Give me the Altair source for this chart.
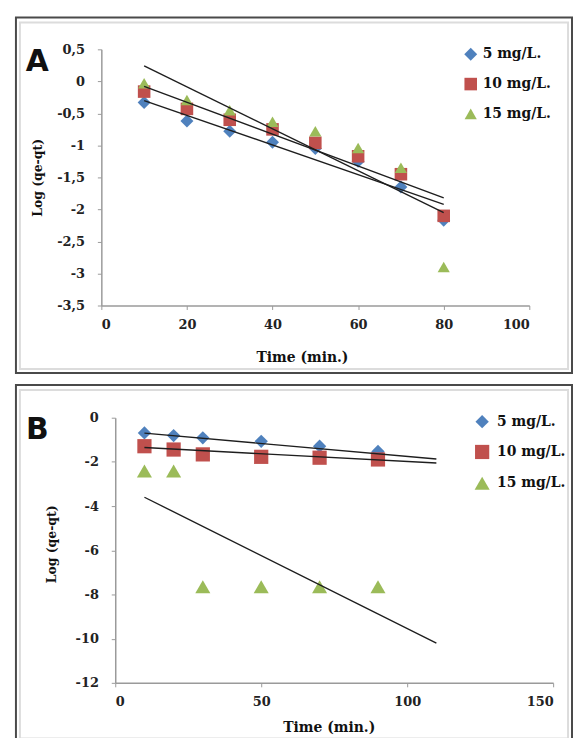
import altair as alt
import pandas as pd

# ---------------- data ----------------
series = ["5 mg/L.", "10 mg/L.", "15 mg/L."]
colors = ["#4F81BD", "#C0504D", "#9BBB59"]
shapes = ["diamond", "square", "triangle-up"]

# Panel A
time_a = [10, 20, 30, 40, 50, 60, 70, 80]
a_5 = [-0.33, -0.62, -0.78, -0.95, -1.05, -1.25, -1.65, -2.17]
a_10 = [-0.16, -0.43, -0.60, -0.75, -0.96, -1.17, -1.45, -2.10]
a_15 = [-0.03, -0.29, -0.45, -0.63, -0.78, -1.04, -1.35, -2.90]
fit_time_a = [10, 80]
fit_a_5 = [-0.30, -1.92]
fit_a_10 = [-0.08, -1.82]
fit_a_15 = [0.24, -2.05]
a_xticks = [0, 20, 40, 60, 80, 100]
a_yticks = [0.5, 0, -0.5, -1, -1.5, -2, -2.5, -3, -3.5]

# Panel B
time_b = [10, 20, 30, 50, 70, 90]
b_5 = [-0.69, -0.81, -0.91, -1.07, -1.29, -1.53]
b_10 = [-1.29, -1.44, -1.66, -1.77, -1.81, -1.89]
b_15 = [-2.41, -2.41, -7.65, -7.65, -7.65, -7.65]
fit_time_b = [10, 110]
fit_b_5 = [-0.70, -1.87]
fit_b_10 = [-1.35, -2.05]
fit_b_15 = [-3.60, -10.20]
b_xticks = [0, 50, 100, 150]
b_yticks = [0, -2, -4, -6, -8, -10, -12]

x_title = "Time (min.)"
y_title = "Log (qe-qt)"


def long_df(t, cols):
    rows = []
    for name, vals in zip(series, cols):
        for ti, v in zip(t, vals):
            rows.append({"t": ti, "v": v, "series": name})
    return pd.DataFrame(rows)


pts_a = long_df(time_a, [a_5, a_10, a_15])
fit_a = long_df(fit_time_a, [fit_a_5, fit_a_10, fit_a_15])
pts_b = long_df(time_b, [b_5, b_10, b_15])
fit_b = long_df(fit_time_b, [fit_b_5, fit_b_10, fit_b_15])

one = pd.DataFrame({"k": [0]})

LABEL_EXPR = "replace(toString(datum.value), '.', ',')"
SERIF = "DejaVu Serif"
AXIS_GRAY = "#9a9a9a"


def panel(pts, fits, letter, xdom, xticks, xrange, ydom, yticks, width, height,
          xtitle_xy, ytitle_xy, yoffset, leg_xy, label_offset, sizes, border_y):
    common_axis = dict(
        labelFont=SERIF, labelFontWeight="bold", labelFontSize=13, labelColor="#222",
        labelExpr=LABEL_EXPR, titleFont=SERIF, titleFontWeight="bold",
        titleColor="#111", domainColor=AXIS_GRAY, domainWidth=1.5,
        tickColor=AXIS_GRAY, tickSize=4, tickWidth=1, grid=False,
        titleAlign="center", titleBaseline="middle",
    )
    x_scale = alt.Scale(domain=xdom, nice=False, zero=False)
    if xrange is not None:
        x_scale = alt.Scale(domain=xdom, range=xrange, nice=False, zero=False)
    x_enc = alt.X("t:Q", scale=x_scale,
                  axis=alt.Axis(values=xticks, title=x_title, titleFontSize=14,
                                titleX=xtitle_xy[0], titleY=xtitle_xy[1],
                                labelPadding=9, **common_axis))
    y_axis_kw = dict(values=yticks, title=y_title, titleFontSize=12.5,
                     titleX=ytitle_xy[0], titleY=ytitle_xy[1], titleAngle=270,
                     labelPadding=13, **common_axis)
    if yoffset:
        y_axis_kw["offset"] = yoffset
    y_enc = alt.Y("v:Q", scale=alt.Scale(domain=ydom, nice=False, zero=False),
                  axis=alt.Axis(**y_axis_kw))

    leg = alt.Legend(orient="none", legendX=leg_xy[0], legendY=leg_xy[1], title=None,
                     labelFont=SERIF, labelFontWeight="bold", labelFontSize=14,
                     labelColor="#111", symbolSize=90, symbolStrokeWidth=0,
                     rowPadding=16, labelOffset=label_offset, padding=0)

    points = alt.Chart(pts).mark_point(filled=True, opacity=1).encode(
        x=x_enc, y=y_enc,
        color=alt.Color("series:N", scale=alt.Scale(domain=series, range=colors), legend=leg),
        shape=alt.Shape("series:N", scale=alt.Scale(domain=series, range=shapes), legend=leg),
        size=alt.Size("series:N", scale=alt.Scale(domain=series, range=sizes), legend=None),
        order=alt.Order("order:Q"),
    ).transform_calculate(order="indexof(%s, datum.series)" % str(series))

    lines = alt.Chart(fits).mark_line(color="#1e1e1e", strokeWidth=1.4).encode(
        x=x_enc, y=y_enc, detail="series:N")

    border = alt.Chart(one).mark_rect(fillOpacity=0, stroke="#4a4a4a", strokeWidth=2).encode(
        x=alt.value(-86), x2=alt.value(474), y=alt.value(border_y[0]), y2=alt.value(border_y[1]))
    inner = alt.Chart(one).mark_rect(fillOpacity=0, stroke="#dcdcdc", strokeWidth=2).encode(
        x=alt.value(-82), x2=alt.value(470), y=alt.value(border_y[0] + 5), y2=alt.value(border_y[1] - 4))

    let = alt.Chart(one).mark_text(font="DejaVu Sans", fontWeight="bold", fontSize=30,
                                   color="#111", align="center", baseline="middle").encode(
        x=alt.value(-64.5), y=alt.value(12.5), text=alt.value(letter))

    return alt.layer(inner, border, points, lines, let).properties(width=width, height=height)


panel_a = panel(pts_a, fit_a, "A", [0, 100], a_xticks, None, [-3.5, 0.5], a_yticks,
                431, 258, (202, 52), (-64, 129), 0, (365, -2), 5,
                [170, 150, 200], (-32, 326))
panel_b = panel(pts_b, fit_b, "B", [0, 150], b_xticks, [14, 455], [-12, 0], b_yticks,
                455, 267, (229, 45), (-64, 127), -14, (375.5, -3), 7,
                [180, 230, 290], (-33, 327))

chart = alt.vconcat(panel_a, panel_b, spacing=10).resolve_scale(
    x="independent", y="independent", color="independent", shape="independent",
    size="independent"
).properties(
    padding={"left": 7, "top": 6, "right": 0, "bottom": 0}
).configure_view(stroke=None)

chart.save("out.html", embed_options={"renderer": "svg", "actions": False})
